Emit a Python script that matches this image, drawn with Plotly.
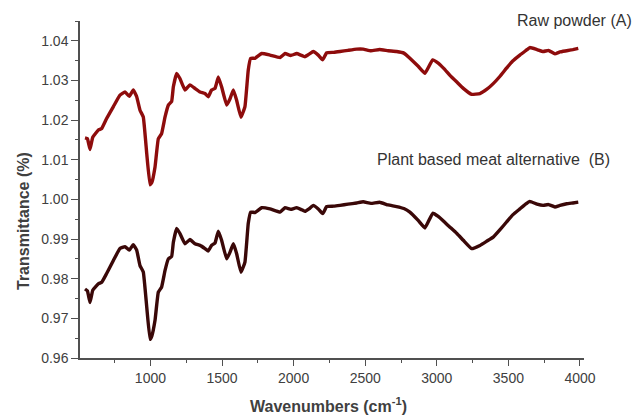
import plotly.graph_objects as go

# Raw powder (A)
wn_a = [543, 560, 578, 597, 636, 660, 694, 741, 787, 822, 852, 880, 904, 927, 950, 974, 997, 1010,
        1032, 1055, 1078, 1102, 1125, 1148, 1160, 1183, 1206, 1241, 1276, 1311, 1346, 1381, 1404,
        1427, 1451, 1474, 1497, 1532, 1556, 1579, 1602, 1632, 1660, 1683, 1700, 1730, 1777, 1835,
        1905, 1940, 1980, 2021, 2050, 2079, 2110, 2137, 2172, 2203, 2231, 2280, 2324, 2380, 2440,
        2486, 2540, 2600, 2660, 2719, 2770, 2812, 2870, 2917, 2971, 3010, 3050, 3092, 3140, 3185,
        3243, 3301, 3350, 3394, 3440, 3487, 3530, 3580, 3620, 3650, 3700, 3743, 3780, 3825, 3860,
        3907, 3950, 3988]
tr_a = [1.0155, 1.0153, 1.0126, 1.0157, 1.0175, 1.0179, 1.0204, 1.0234, 1.0263, 1.0271, 1.0260,
        1.0276, 1.0259, 1.0225, 1.0208, 1.0116, 1.0037, 1.0043, 1.0082, 1.0153, 1.0166, 1.0208,
        1.0238, 1.0247, 1.0284, 1.0318, 1.0305, 1.0276, 1.0289, 1.0280, 1.0271, 1.0267, 1.0259,
        1.0276, 1.0280, 1.0309, 1.0284, 1.0238, 1.0254, 1.0276, 1.0250, 1.0207, 1.0234, 1.0326,
        1.0356, 1.0356, 1.0368, 1.0364, 1.0358, 1.0368, 1.0363, 1.0368, 1.0364, 1.0360, 1.0367,
        1.0373, 1.0364, 1.0352, 1.0370, 1.0371, 1.0373, 1.0376, 1.0379, 1.0379, 1.0375, 1.0378,
        1.0375, 1.0373, 1.0369, 1.0356, 1.0336, 1.0318, 1.0352, 1.0344, 1.0330, 1.0313, 1.0296,
        1.0280, 1.0265, 1.0267, 1.0278, 1.0292, 1.0310, 1.0331, 1.0349, 1.0364, 1.0375, 1.0383,
        1.0378, 1.0373, 1.0376, 1.0367, 1.0372, 1.0375, 1.0378, 1.0381]

# Plant based meat alternative (B)
wn_b = wn_a
tr_b = [0.9774, 0.9769, 0.9740, 0.9771, 0.9787, 0.9791, 0.9813, 0.9846, 0.9876, 0.9881, 0.9872,
        0.9886, 0.9872, 0.9833, 0.9817, 0.9729, 0.9647, 0.9656, 0.9695, 0.9766, 0.9779, 0.9821,
        0.9850, 0.9856, 0.9892, 0.9927, 0.9914, 0.9888, 0.9899, 0.9888, 0.9884, 0.9876, 0.9870,
        0.9884, 0.9890, 0.9920, 0.9897, 0.9850, 0.9867, 0.9888, 0.9863, 0.9816, 0.9842, 0.9939,
        0.9968, 0.9967, 0.9979, 0.9976, 0.9968, 0.9979, 0.9975, 0.9979, 0.9975, 0.9970, 0.9977,
        0.9985, 0.9976, 0.9964, 0.9982, 0.9983, 0.9985, 0.9988, 0.9991, 0.9994, 0.9990, 0.9993,
        0.9986, 0.9982, 0.9977, 0.9968, 0.9947, 0.9928, 0.9965, 0.9957, 0.9944, 0.9930, 0.9914,
        0.9897, 0.9876, 0.9884, 0.9895, 0.9905, 0.9923, 0.9943, 0.9961, 0.9976, 0.9988, 0.9995,
        0.9988, 0.9985, 0.9987, 0.9981, 0.9985, 0.9989, 0.9991, 0.9993]

x_ticks = [1000, 1500, 2000, 2500, 3000, 3500, 4000]
y_ticks = [0.96, 0.97, 0.98, 0.99, 1.00, 1.01, 1.02, 1.03, 1.04]

fig = go.Figure()
fig.add_trace(go.Scatter(x=wn_a, y=tr_a, mode="lines",
                         line=dict(color="#8e0c0c", width=3.4, shape="spline", smoothing=0.3),
                         showlegend=False))
fig.add_trace(go.Scatter(x=wn_b, y=tr_b, mode="lines",
                         line=dict(color="#3a0808", width=3.4, shape="spline", smoothing=0.3),
                         showlegend=False))

axis_font = dict(family="Liberation Sans, Arial, sans-serif", size=14, color="#404040")
fig.update_layout(
    width=636, height=416,
    margin=dict(l=80, r=52, t=21, b=58),
    plot_bgcolor="white", paper_bgcolor="white",
    xaxis=dict(range=[508, 4028], tickvals=x_ticks, ticktext=[str(v) for v in x_ticks],
               showgrid=False, zeroline=False, showline=True, linecolor="#505050", linewidth=1.5,
               ticks="outside", ticklen=6, tickwidth=1.3, tickcolor="#505050", tickfont=axis_font,
               minor=dict(ticks="outside", ticklen=3, tickwidth=1.2, tickcolor="#505050",
                          tick0=750, dtick=500)),
    yaxis=dict(range=[0.96, 1.045], tickvals=y_ticks, ticktext=["%.2f" % v for v in y_ticks],
               showgrid=False, zeroline=False, showline=True, linecolor="#505050", linewidth=1.5,
               ticks="outside", ticklen=7, tickwidth=1.3, tickcolor="#505050", tickfont=axis_font,
               minor=dict(ticks="outside", ticklen=3, tickwidth=1.2, tickcolor="#505050",
                          tick0=0.965, dtick=0.01)),
)

fig.add_annotation(text="Raw powder (A)", xref="paper", yref="paper", x=574, y=20,
                   showarrow=False, font=dict(family="Liberation Sans, Arial", size=16, color="#333333"))
fig.add_annotation(text="Plant based meat alternative  (B)", xref="paper", yref="paper",
                   x=493, y=160, showarrow=False,
                   font=dict(family="Liberation Sans, Arial", size=16, color="#333333"))
fig.add_annotation(text="<b>Transmittance (%)</b>", xref="paper", yref="paper", x=24, y=221,
                   textangle=-90, showarrow=False,
                   font=dict(family="Liberation Sans, Arial", size=16, color="#404040"))
fig.add_annotation(text="<b>Wavenumbers (cm<sup>-1</sup>)</b>", xref="paper", yref="paper",
                   x=328, y=405, showarrow=False,
                   font=dict(family="Liberation Sans, Arial", size=16, color="#404040"))

# convert pixel positions of annotations into paper coordinates
L, R, T, B = 80, 52, 21, 58
pw, ph = 636 - L - R, 416 - T - B
for ann in fig.layout.annotations:
    px, py = ann.x, ann.y
    ann.x = (px - L) / pw
    ann.y = 1 - (py - T) / ph
    ann.xanchor = "center"
    ann.yanchor = "middle"

fig.write_html("out.html")
